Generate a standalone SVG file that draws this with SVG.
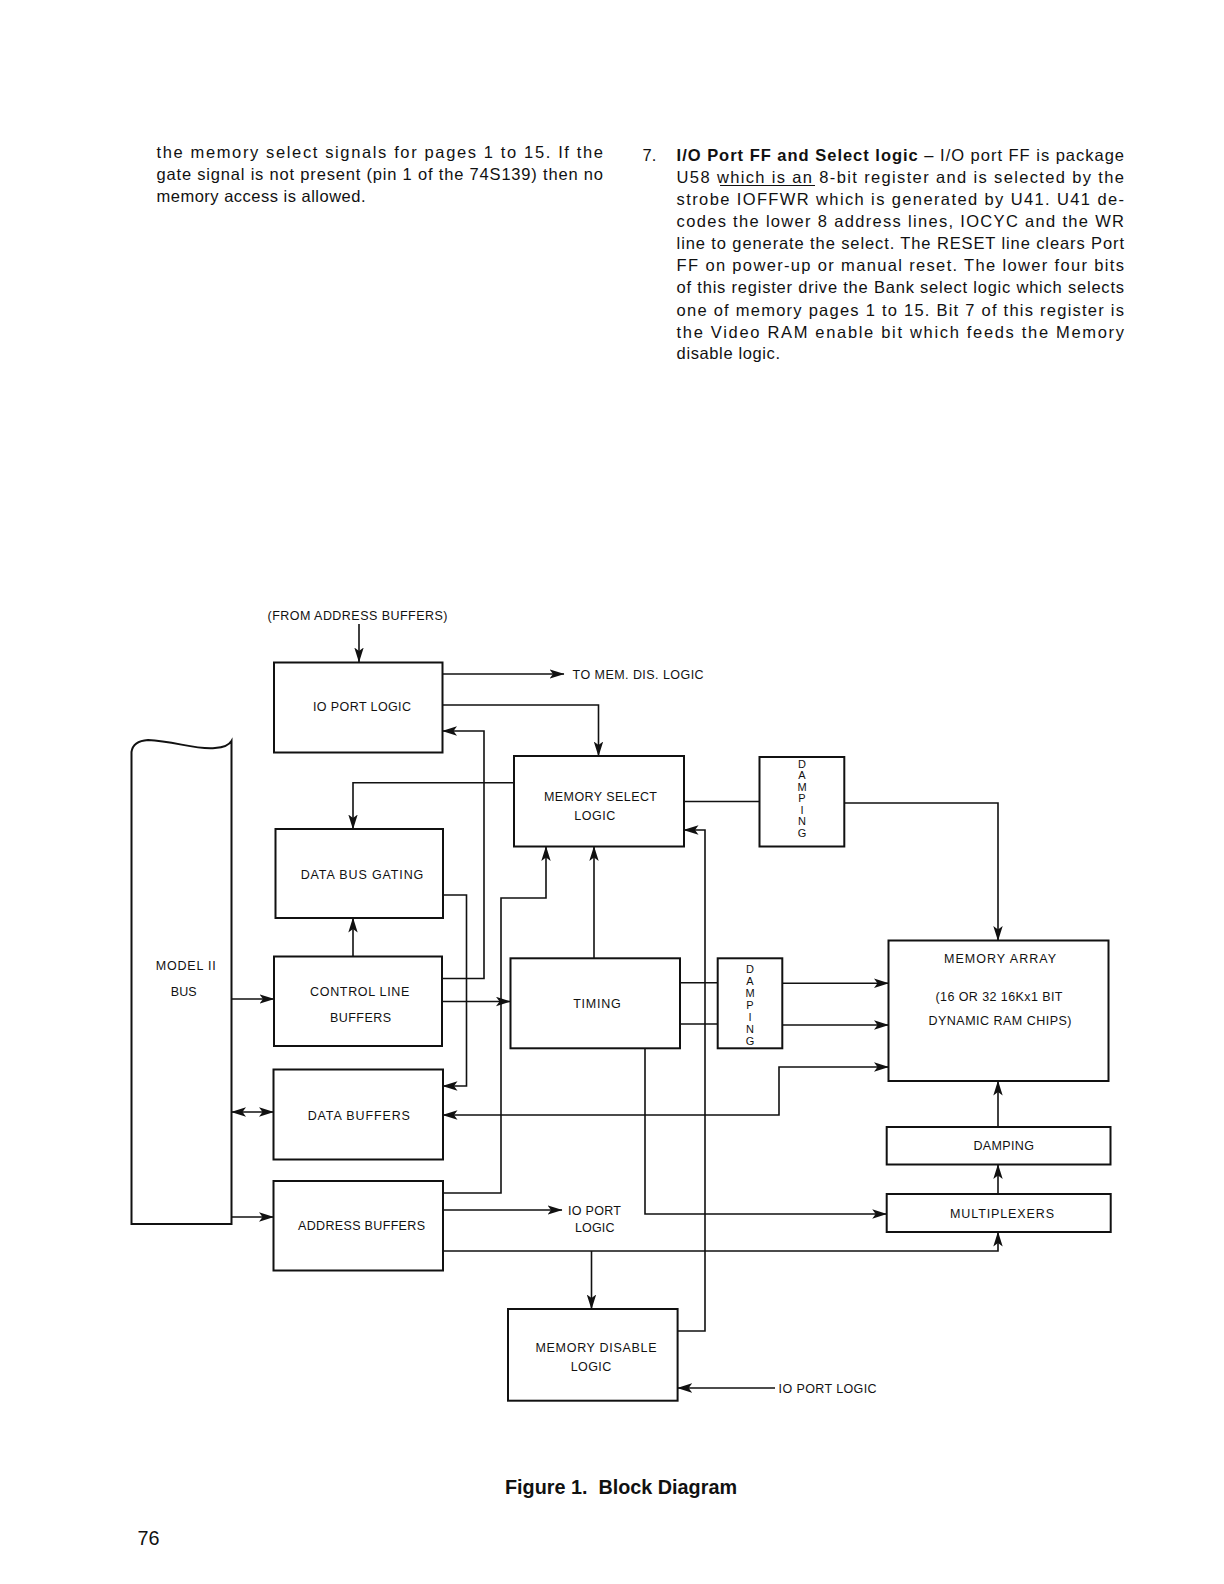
<svg xmlns="http://www.w3.org/2000/svg" width="1224" height="1584" viewBox="0 0 1224 1584">
<style>
.p{font-family:"Liberation Sans",Arial,sans-serif;font-size:16.5px;fill:#111}
.b{font-weight:bold}
.l{font-family:"Liberation Sans",Arial,sans-serif;font-size:12.5px;fill:#111;text-anchor:middle}
.ls{font-family:"Liberation Sans",Arial,sans-serif;font-size:12.5px;fill:#111}
.v{font-family:"Liberation Sans",Arial,sans-serif;font-size:11px;fill:#111;text-anchor:middle}
.box{fill:#fff;stroke:#111;stroke-width:2}
.w{fill:none;stroke:#111;stroke-width:1.6}
.a{marker-end:url(#ah)}
.a2{marker-start:url(#ah);marker-end:url(#ah)}
.cap{font-family:"Liberation Sans",Arial,sans-serif;font-size:21px;font-weight:bold;fill:#111}
</style>
<defs>
<marker id="ah" viewBox="0 0 15 10" refX="14.5" refY="5" markerWidth="15" markerHeight="10" orient="auto-start-reverse" markerUnits="userSpaceOnUse">
<path d="M0,0.3 L15,5 L0,9.7 L3.5,5 z" fill="#111"/>
</marker>
</defs>
<rect width="1224" height="1584" fill="#fff"/>

<g id="text-left">
<text class="p" x="156.5" y="158" textLength="446.5" lengthAdjust="spacing">the memory select signals for pages 1 to 15. If the</text>
<text class="p" x="156.5" y="180" textLength="446.5" lengthAdjust="spacing">gate signal is not present (pin 1 of the 74S139) then no</text>
<text class="p" x="156.5" y="201.5" textLength="209" lengthAdjust="spacing">memory access is allowed.</text>
</g>

<g id="text-right">
<text class="p" x="642.5" y="161">7.</text>
<text class="p" x="676.6" y="161" textLength="447.4" lengthAdjust="spacing"><tspan class="b">I/O Port FF and Select logic</tspan> – I/O port FF is package</text>
<text class="p" x="676.6" y="182.5" textLength="447.4" lengthAdjust="spacing">U58 which is an 8-bit register and is selected by the</text>
<line x1="720" y1="185.5" x2="815" y2="185.5" stroke="#111" stroke-width="1.2"/>
<text class="p" x="676.6" y="204.5" textLength="447.4" lengthAdjust="spacing">strobe IOFFWR which is generated by U41. U41 de-</text>
<text class="p" x="676.6" y="226.5" textLength="447.4" lengthAdjust="spacing">codes the lower 8 address lines, IOCYC and the WR</text>
<text class="p" x="676.6" y="249" textLength="447.4" lengthAdjust="spacing">line to generate the select. The RESET line clears Port</text>
<text class="p" x="676.6" y="271" textLength="447.4" lengthAdjust="spacing">FF on power-up or manual reset. The lower four bits</text>
<text class="p" x="676.6" y="293" textLength="447.4" lengthAdjust="spacing">of this register drive the Bank select logic which selects</text>
<text class="p" x="676.6" y="315.5" textLength="447.4" lengthAdjust="spacing">one of memory pages 1 to 15. Bit 7 of this register is</text>
<text class="p" x="676.6" y="337.5" textLength="447.4" lengthAdjust="spacing">the Video RAM enable bit which feeds the Memory</text>
<text class="p" x="676.6" y="359" textLength="103.4" lengthAdjust="spacing">disable logic.</text>
</g>

<g id="connectors">
<path class="w a" d="M359,624 L359,662"/>
<path class="w a" d="M442.5,674 L564,674"/>
<path class="w a" d="M442.5,705 L598.5,705 L598.5,756"/>
<path class="w a" d="M442,978.5 L484,978.5 L484,731 L442.5,731"/>
<path class="w a" d="M514,782.7 L353,782.7 L353,829"/>
<path class="w" d="M684,801.5 L759.5,801.5"/>
<path class="w a" d="M844.3,803 L998,803 L998,940.5"/>
<path class="w a" d="M353,956.5 L353,918"/>
<path class="w a" d="M443,895 L466.5,895 L466.5,1086 L443,1086"/>
<path class="w a" d="M231.5,999 L274,999"/>
<path class="w a" d="M442,1001.5 L510.5,1001.5"/>
<path class="w a2" d="M231.5,1112 L273.5,1112"/>
<path class="w a" d="M231.5,1217 L273.5,1217"/>
<path class="w a" d="M443,1193 L501,1193 L501,898 L546,898 L546,846.5"/>
<path class="w a" d="M594,958.3 L594,846.5"/>
<path class="w a" d="M677.6,1331 L705,1331 L705,830 L684,830"/>
<path class="w" d="M680,982.7 L717.7,982.7"/>
<path class="w" d="M680,1024 L717.7,1024"/>
<path class="w a" d="M782.3,983.3 L888.5,983.3"/>
<path class="w a" d="M782.3,1025 L888.5,1025"/>
<path class="w a2" d="M443,1115 L779,1115 L779,1067 L888.5,1067"/>
<path class="w a" d="M645,1048.3 L645,1214 L886.7,1214"/>
<path class="w a" d="M443,1210 L562,1210"/>
<path class="w a" d="M443,1251 L998,1251 L998,1232"/>
<path class="w a" d="M591.5,1251 L591.5,1309"/>
<path class="w a" d="M998,1194 L998,1164.5"/>
<path class="w a" d="M998,1127 L998,1081"/>
<path class="w a" d="M775,1388 L677.6,1388"/>
</g>

<g id="model-ii-bus">
<path class="box" d="M131.5,1224 L131.5,752 Q133,741 148,740 C175,741 195,750 215,748 Q228,747 231.5,741 L231.5,1224 Z"/>
<text class="l" x="185.7" y="970" textLength="60" lengthAdjust="spacing">MODEL II</text>
<text class="l" x="183.7" y="995.5" textLength="26" lengthAdjust="spacing">BUS</text>
</g>

<g id="io-port-logic">
<rect class="box" x="274" y="662.5" width="168.5" height="90"/>
<text class="l" x="362" y="711" textLength="98" lengthAdjust="spacing">IO PORT LOGIC</text>
</g>
<text class="l" x="357.5" y="619.5" textLength="180" lengthAdjust="spacing">(FROM ADDRESS BUFFERS)</text>
<text class="ls" x="572.6" y="679" textLength="131" lengthAdjust="spacing">TO MEM. DIS. LOGIC</text>

<g id="memory-select-logic">
<rect class="box" x="514" y="756" width="170" height="90.5"/>
<text class="l" x="600.5" y="801" textLength="113" lengthAdjust="spacing">MEMORY SELECT</text>
<text class="l" x="594.7" y="820" textLength="41" lengthAdjust="spacing">LOGIC</text>
</g>

<g id="damping-1">
<rect class="box" x="759.5" y="757" width="84.8" height="89.5"/>
<text class="v" x="802" y="767.5">D</text>
<text class="v" x="802" y="779">A</text>
<text class="v" x="802" y="790.5">M</text>
<text class="v" x="802" y="802">P</text>
<text class="v" x="802" y="813.5">I</text>
<text class="v" x="802" y="825">N</text>
<text class="v" x="802" y="836.5">G</text>
</g>

<g id="data-bus-gating">
<rect class="box" x="275.5" y="829" width="167.5" height="89"/>
<text class="l" x="362" y="878.5" textLength="122.6" lengthAdjust="spacing">DATA BUS GATING</text>
</g>

<g id="control-line-buffers">
<rect class="box" x="274" y="956.5" width="168" height="89.5"/>
<text class="l" x="359.7" y="995.5" textLength="99.3" lengthAdjust="spacing">CONTROL LINE</text>
<text class="l" x="360.5" y="1021.5" textLength="61" lengthAdjust="spacing">BUFFERS</text>
</g>

<g id="timing">
<rect class="box" x="510.5" y="958.3" width="169.5" height="90"/>
<text class="l" x="597" y="1008" textLength="47.7" lengthAdjust="spacing">TIMING</text>
</g>

<g id="damping-2">
<rect class="box" x="717.7" y="958.3" width="64.6" height="90"/>
<text class="v" x="750" y="973">D</text>
<text class="v" x="750" y="985">A</text>
<text class="v" x="750" y="997">M</text>
<text class="v" x="750" y="1009">P</text>
<text class="v" x="750" y="1021">I</text>
<text class="v" x="750" y="1033">N</text>
<text class="v" x="750" y="1045">G</text>
</g>

<g id="memory-array">
<rect class="box" x="888.5" y="940.5" width="220" height="140.5"/>
<text class="l" x="1000" y="963" textLength="112" lengthAdjust="spacing">MEMORY ARRAY</text>
<text class="l" x="999" y="1001" textLength="127" lengthAdjust="spacing">(16 OR 32 16Kx1 BIT</text>
<text class="l" x="1000" y="1024.5" textLength="143" lengthAdjust="spacing">DYNAMIC RAM CHIPS)</text>
</g>

<g id="data-buffers">
<rect class="box" x="273.5" y="1069.5" width="169.5" height="90"/>
<text class="l" x="358.8" y="1120" textLength="102.3" lengthAdjust="spacing">DATA BUFFERS</text>
</g>

<g id="damping-3">
<rect class="box" x="886.7" y="1127" width="223.8" height="37.5"/>
<text class="l" x="1003.7" y="1149.5" textLength="60.6" lengthAdjust="spacing">DAMPING</text>
</g>

<g id="multiplexers">
<rect class="box" x="886.7" y="1194" width="224" height="38"/>
<text class="l" x="1002" y="1218" textLength="104" lengthAdjust="spacing">MULTIPLEXERS</text>
</g>

<g id="address-buffers">
<rect class="box" x="273.5" y="1181" width="169.5" height="89.5"/>
<text class="l" x="361.5" y="1230" textLength="127" lengthAdjust="spacing">ADDRESS BUFFERS</text>
</g>
<text class="ls" x="568" y="1214.5" textLength="53" lengthAdjust="spacing">IO PORT</text>
<text class="ls" x="575" y="1232" textLength="39.5" lengthAdjust="spacing">LOGIC</text>

<g id="memory-disable-logic">
<rect class="box" x="508" y="1309" width="169.6" height="91.7"/>
<text class="l" x="596" y="1352" textLength="121" lengthAdjust="spacing">MEMORY DISABLE</text>
<text class="l" x="591" y="1371" textLength="40.5" lengthAdjust="spacing">LOGIC</text>
</g>
<text class="ls" x="778.6" y="1393" textLength="98" lengthAdjust="spacing">IO PORT LOGIC</text>

<text class="cap" x="505" y="1494" textLength="232" lengthAdjust="spacingAndGlyphs" xml:space="preserve">Figure 1.  Block Diagram</text>
<text class="cap" x="137.5" y="1545" style="font-weight:normal" textLength="22" lengthAdjust="spacingAndGlyphs">76</text>
</svg>
